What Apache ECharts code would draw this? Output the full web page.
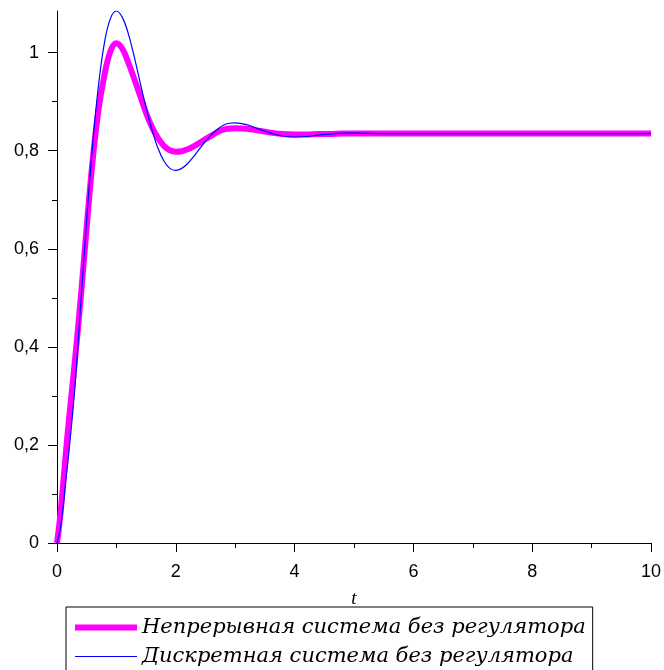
<!DOCTYPE html>
<html><head><meta charset="utf-8">
<script src="https://cdn.jsdelivr.net/npm/echarts@6/dist/echarts.min.js"></script>
<style>html,body{margin:0;padding:0;background:#fff}#c{width:664px;height:670px}</style>
</head><body><div id="c"></div>
<script>
// time points (t)
const tValues = [0, 0.05, 0.1, 0.15, 0.2, 0.3, 0.4, 0.5, 0.6, 0.7, 0.8, 0.9, 1.0, 1.1, 1.2, 1.3, 1.4, 1.5, 1.6, 1.7, 1.8, 1.9, 2.0, 2.1, 2.2, 2.3, 2.4, 2.5, 2.6, 2.7, 2.8, 2.9, 3.0, 3.2, 3.4, 3.6, 3.8, 4.0, 4.2, 4.4, 4.6, 4.8, 5.0, 5.5, 6, 7, 8, 9, 10];
// continuous system without controller (magenta, thick)
const continuousY = [0, 0.05, 0.115, 0.185, 0.25, 0.37, 0.50, 0.645, 0.78, 0.885, 0.955, 1.003, 1.019, 1.008, 0.98, 0.947, 0.912, 0.877, 0.848, 0.826, 0.81, 0.801, 0.798, 0.799, 0.803, 0.809, 0.816, 0.824, 0.831, 0.838, 0.843, 0.845, 0.846, 0.845, 0.841, 0.837, 0.834, 0.833, 0.833, 0.834, 0.834, 0.835, 0.835, 0.835, 0.835, 0.835, 0.835, 0.835, 0.835];
// discrete system without controller (blue, thin)
const discreteY = [0, 0.025, 0.07, 0.13, 0.185, 0.315, 0.488, 0.66, 0.813, 0.935, 1.021, 1.07, 1.085, 1.072, 1.039, 0.992, 0.939, 0.888, 0.842, 0.805, 0.779, 0.764, 0.760, 0.764, 0.774, 0.788, 0.804, 0.819, 0.833, 0.844, 0.852, 0.856, 0.857, 0.853, 0.844, 0.836, 0.830, 0.828, 0.829, 0.832, 0.834, 0.836, 0.836, 0.835, 0.835, 0.835, 0.835, 0.835, 0.835];
const seriesNames = ['Непрерывная система без регулятора', 'Дискретная система без регулятора'];
const seriesColors = ['#ff00ff', '#0000ff'];
const seriesWidths = [6, 1.2];
const yMajorTicks = [0, 0.2, 0.4, 0.6, 0.8, 1];
const yMinorTicks = [0.1, 0.3, 0.5, 0.7, 0.9];
const xAxisName = 't';

const pairs = ys => tValues.map((t, i) => [t, ys[i]]);
const fmt = v => String(Math.round(v * 10) / 10).replace('.', ',');
const labelFont = {fontFamily: 'Liberation Sans', fontSize: 18, color: '#000'};
const axisLine = {show: true, lineStyle: {color: '#000', width: 1}};

const chart = echarts.init(document.getElementById('c'));
chart.setOption({
  animation: false,
  backgroundColor: '#fff',
  grid: {left: 57, right: 11, top: 11, bottom: 127, containLabel: false},
  xAxis: {
    type: 'value', min: 0, max: 10, interval: 2,
    axisLine: axisLine,
    axisTick: {show: true, length: 9, lineStyle: {color: '#000'}},
    minorTick: {show: true, splitNumber: 2, length: 5, lineStyle: {color: '#000'}},
    splitLine: {show: false},
    axisLabel: Object.assign({margin: 20, formatter: fmt}, labelFont),
    name: xAxisName, nameLocation: 'middle', nameGap: 46,
    nameTextStyle: {fontFamily: 'Liberation Serif', fontStyle: 'italic', fontSize: 19, color: '#000'}
  },
  yAxis: [{
    type: 'value', min: 0, max: 1.085, position: 'left',
    axisLine: axisLine,
    axisTick: {show: true, length: 9, customValues: yMajorTicks, lineStyle: {color: '#000'}},
    splitLine: {show: false},
    axisLabel: Object.assign({margin: 18, customValues: yMajorTicks, formatter: fmt}, labelFont)
  }, {
    type: 'value', min: 0, max: 1.085, position: 'left', offset: 0,
    axisLine: {show: false},
    axisTick: {show: true, length: 5, customValues: yMinorTicks, lineStyle: {color: '#000'}},
    splitLine: {show: false},
    axisLabel: {show: false}
  }],
  legend: {
    orient: 'vertical', left: 66, top: 607, height: 90,
    padding: [10, 7, 7, 6], itemGap: 8, itemWidth: 62, itemHeight: 24,
    borderColor: '#000', borderWidth: 1, borderRadius: 0,
    selectedMode: false,
    itemStyle: {opacity: 0},
    textStyle: {fontFamily: 'DejaVu Serif', fontStyle: 'italic', fontSize: 21, color: '#000'},
    data: seriesNames.map((n, i) => ({name: n, lineStyle: {color: seriesColors[i], width: seriesWidths[i]}}))
  },
  series: seriesNames.map((n, i) => ({
    name: n, type: 'line', yAxisIndex: 0, data: pairs(i === 0 ? continuousY : discreteY),
    smooth: 0.4, symbol: 'none',
    lineStyle: {color: seriesColors[i], width: seriesWidths[i]}, itemStyle: {color: seriesColors[i]}
  }))
});
</script></body></html>
